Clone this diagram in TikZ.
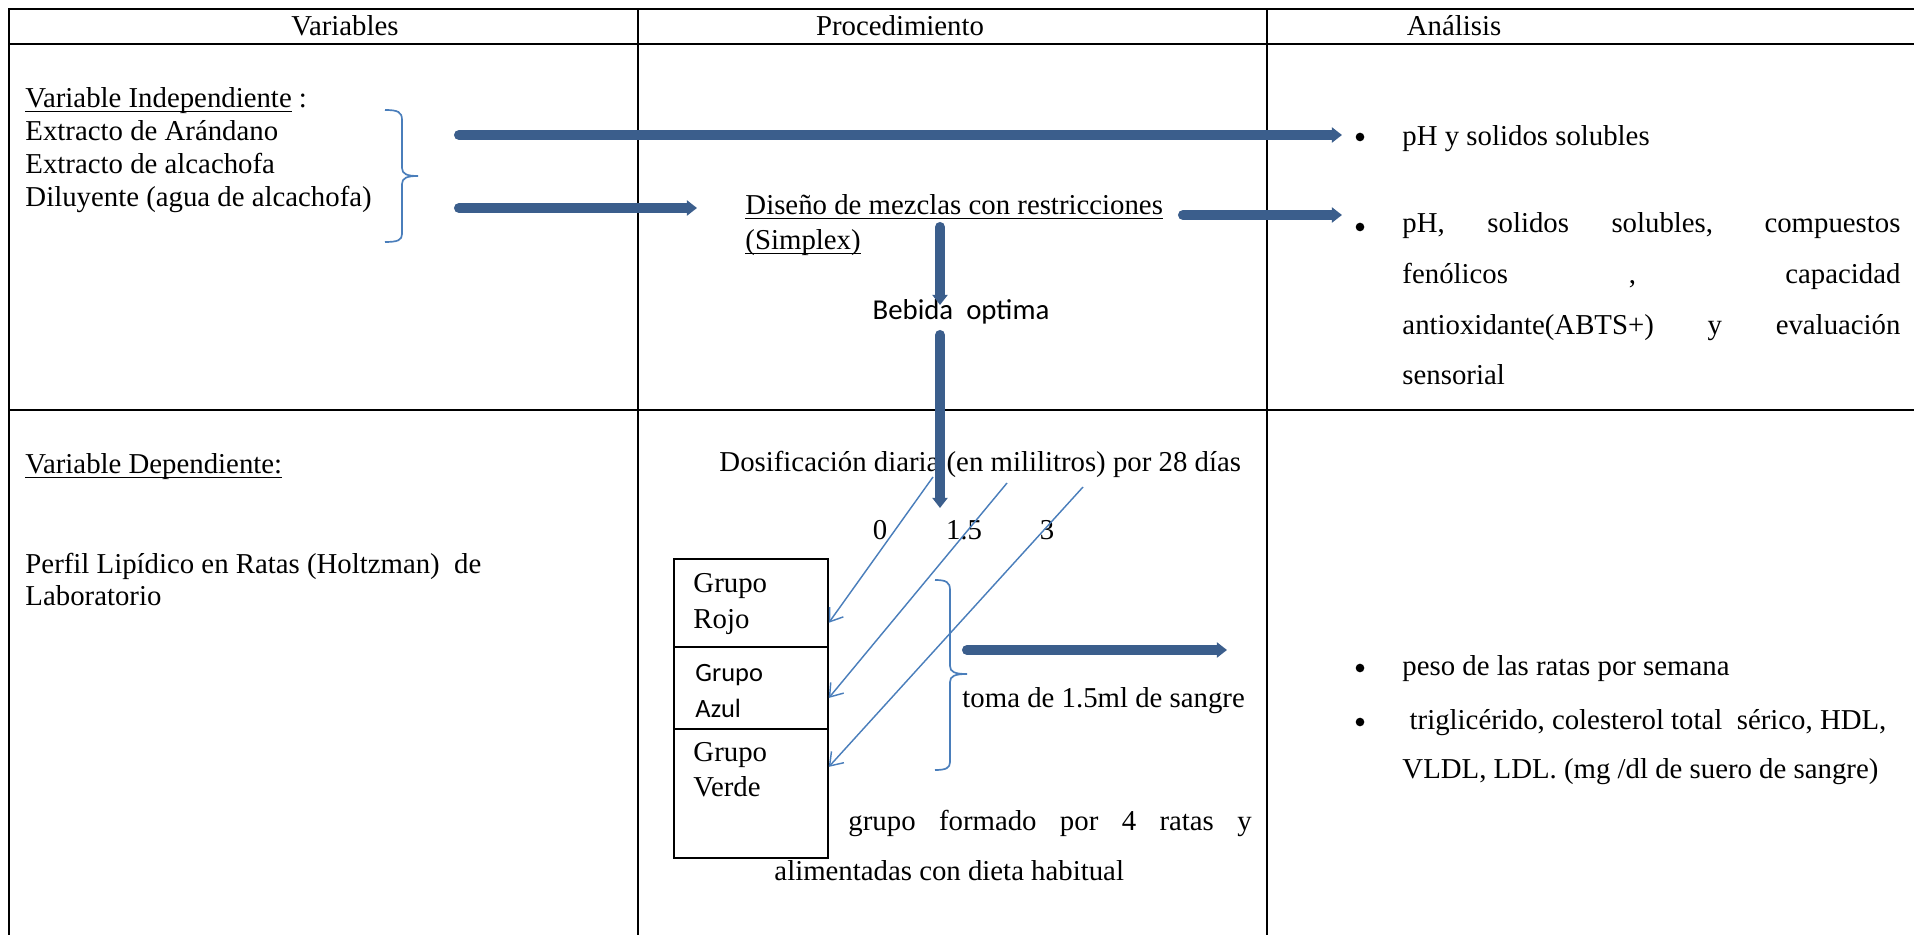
\documentclass[tikz,border=0pt]{standalone}
\usepackage{fontspec}
\setmainfont{Liberation Serif}
\newfontfamily\calibri{Carlito}
\usetikzlibrary{arrows.meta}
\definecolor{arrblue}{RGB}{59,94,140}
\definecolor{lineblue}{RGB}{74,126,187}
\newcommand{\ul}[1]{\underline{\smash{#1}}}

\begin{document}
\begin{tikzpicture}[x=0.41667pt,y=-0.41667pt,font=\fontsize{12}{14}\selectfont,
  grid/.style={line width=0.7pt},
  txt/.style={anchor=base west, inner sep=0pt},
  head/.style={anchor=base, inner sep=0pt},
  dot/.style={circle, fill, inner sep=0pt, minimum size=3.6pt},
  fat/.style={draw=arrblue, line width=4.2pt, line cap=round, -{Triangle[length=4.2pt,width=6.2pt]}},
  slim/.style={draw=lineblue, line width=0.6pt, -{Straight Barb[length=5pt,width=7pt]}},
  curly/.style={draw=lineblue, line width=0.7pt},
  grpbox/.style={draw, line width=0.7pt, minimum width=64.2pt, anchor=north west, inner sep=0pt}]
\useasboundingbox (0,0) rectangle (1914,935);

% table
\draw[grid] (9,935) -- (9,9) -- (1914,9);
\draw[grid] (9,44) -- (1914,44);
\draw[grid] (9,410) -- (1914,410);
\draw[grid] (638,9) -- (638,935);
\draw[grid] (1267,9) -- (1267,935);
\node[head] (hvar) at (345,36) {Variables};
\node[head] (hproc) at (900,36) {Procedimiento};
\node[head] (hana) at (1454,36) {Análisis};

% variables
\node[txt] (indep) at (25,108) {\ul{Variable Independiente} :};
\foreach \t [count=\i] in {Extracto de Arándano, Extracto de alcachofa, Diluyente (agua de alcachofa)}
  \node[txt] (ind\i) at (25,{108+33*\i}) {\t};
\draw[curly] (385,110) .. controls (398,110) and (402,112) .. (402,120) -- (402,168)
  .. controls (402,174) and (407,176) .. (418,176) .. controls (407,176) and (402,178) .. (402,184)
  -- (402,234) .. controls (402,240) and (398,242) .. (385,242);
\node[txt] (dep) at (25,474) {\ul{Variable Dependiente:}};
\node[txt] (perfil) at (25,573) {Perfil Lipídico en Ratas (Holtzman)\ \ de};
\node[txt] (lab) at (25,605) {Laboratorio};

% procedimiento
\node[txt] (dis) at (745,215) {\ul{Diseño de mezclas con restricciones}};
\node[txt] (simp) at (745,250) {\ul{(Simplex)}};
\node[head, font=\calibri\fontsize{12}{14}\selectfont] (beb) at (961,320) {Bebida\ \ optima};
\node[txt] (dos) at (719,472) {Dosificación diaria (en mililitros) por 28 días};
\foreach \v/\x [count=\i] in {0/880, 1.5/964, 3/1047}
  \node[head] (dose\i) at (\x,539) {\v};

\node[grpbox, minimum height=36.7pt] (rojo) at (673,558) {};
\node[grpbox, minimum height=34.2pt] (azul) at (673,646) {};
\node[grpbox, minimum height=53.7pt] (verde) at (673,728) {};
\node[txt] (rojo1) at (693,593) {Grupo};
\node[txt] (rojo2) at (693,628) {Rojo};
\node[txt, font=\calibri\fontsize{11}{13}\selectfont] (azul1) at (695,681) {Grupo};
\node[txt, font=\calibri\fontsize{11}{13}\selectfont] (azul2) at (695,717) {Azul};
\node[txt] (verde1) at (693,761) {Grupo};
\node[txt] (verde2) at (693,796) {Verde};

\draw[curly] (935,580) .. controls (946,580) and (950,582) .. (950,590) -- (950,666)
  .. controls (950,672) and (955,674) .. (967,674) .. controls (955,674) and (950,676) .. (950,682)
  -- (950,762) .. controls (950,768) and (946,770) .. (935,770);
\node[txt] (toma) at (962,707) {toma de 1.5ml de sangre};
\node[txt] (grp1) at (848,830) {\makebox[168pt][s]{grupo formado por 4 ratas y}};
\node[txt] (grp2) at (774,880) {alimentadas con dieta habitual};

% analisis
\node[dot] (b1) at (1360,137) {};
\node[txt] (ph1) at (1402,146) {pH y solidos solubles};
\node[dot] (b2) at (1360,227) {};
\node[txt] (ph2a) at (1402,233) {\makebox[207.5pt][s]{pH, solidos solubles, compuestos}};
\node[txt] (ph2b) at (1402,284) {\makebox[207.5pt][s]{fenólicos , capacidad}};
\node[txt] (ph2c) at (1402,335) {\makebox[207.5pt][s]{antioxidante(ABTS+) y evaluación}};
\node[txt] (ph2d) at (1402,385) {sensorial};
\node[dot] (b3) at (1360,668) {};
\node[txt] (peso) at (1402,675) {peso de las ratas por semana};
\node[dot] (b4) at (1360,722) {};
\node[txt] (tri1) at (1402,729) {\ triglicérido, colesterol total\ \ sérico, HDL,};
\node[txt] (tri2) at (1402,778) {VLDL, LDL. (mg /dl de suero de sangre)};

% thick arrows
\coordinate (a1s) at (459,135);
\coordinate (a1e) at (1342,135);
\coordinate (a2s) at (459,208);
\coordinate (a2e) at (697,208);
\coordinate (a3s) at (1183,215);
\coordinate (a3e) at (1342,215);
\coordinate (v1s) at (940,227);
\coordinate (v1e) at (940,305);
\coordinate (v2s) at (940,335);
\coordinate (v2e) at (940,508);
\coordinate (ts) at (967,650);
\coordinate (te) at (1227,650);
\draw[fat] (a1s) -- (a1e);
\draw[fat] (a2s) -- (a2e);
\draw[fat] (a3s) -- (a3e);
\draw[fat] (v1s) -- (v1e);
\draw[fat] (v2s) -- (v2e);
\draw[fat] (ts) -- (te);

% dosis
\coordinate (d1) at (933,477);
\coordinate (d2) at (1007,483);
\coordinate (d3) at (1083,487);
\foreach \d/\b/\dy in {d1/rojo/-8.3pt, d2/azul/-4.2pt, d3/verde/11pt}
  \draw[slim] (\d) -- ([yshift=\dy]\b.east);
\end{tikzpicture}
\end{document}
